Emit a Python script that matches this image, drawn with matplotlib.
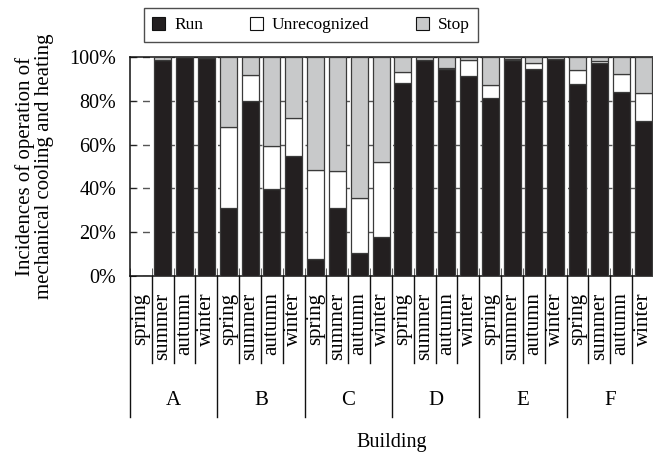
import matplotlib
matplotlib.use("Agg")
import matplotlib.pyplot as plt
from matplotlib.patches import Patch
import numpy as np

plt.rcParams['font.family'] = ['Liberation Serif', 'DejaVu Serif']

buildings = ['A', 'B', 'C', 'D', 'E', 'F']
seasons = ['spring', 'summer', 'autumn', 'winter']

# percent of incidences, building-major order (A spring, A summer, ...)
run = [0, 98.5, 100, 99.5,
       31, 80, 39.5, 54.7,
       7.7, 31, 10.6, 17.6,
       88, 98.6, 94.5, 91.5,
       81.5, 98.5, 94.4, 99,
       87.6, 97.4, 83.8, 71]
unrecognized = [0, 0, 0, 0,
                37, 12, 20, 17.4,
                40.6, 16.8, 25.2, 34.4,
                5, 0, 0.5, 7,
                5.6, 0.5, 2.7, 0.3,
                6.5, 0.8, 8.3, 12.5]
stop = [0, 1.5, 0, 0.5,
        32, 8, 40.5, 27.9,
        51.7, 52.2, 64.2, 48,
        7, 1.4, 5, 1.5,
        12.9, 1, 2.9, 0.7,
        5.9, 1.8, 7.9, 16.5]

run_c = '#231f20'
unrec_c = '#ffffff'
stop_c = '#c8c9ca'
edge_c = '#3a3a3a'

fig = plt.figure(figsize=(6.53, 4.55), dpi=100)
ax = fig.add_axes([130/653, 1-276/455, 524/653, 219/455])

x = np.arange(len(run))
run = np.array(run)
unrecognized = np.array(unrecognized)
stop = np.array(stop)
w = 0.78
ax.bar(x, run, w, color=run_c, edgecolor=edge_c, lw=0.9, zorder=3)
ax.bar(x, unrecognized, w, bottom=run, color=unrec_c, edgecolor=edge_c, lw=0.9, zorder=3)
ax.bar(x, stop, w, bottom=run+unrecognized, color=stop_c, edgecolor=edge_c, lw=0.9, zorder=3)

ax.set_xlim(-0.5, len(run)-0.5)
ax.set_ylim(0, 100)
ax.set_yticks([0, 20, 40, 60, 80, 100])
ax.set_yticklabels([f'{v}%' for v in [0, 20, 40, 60, 80, 100]], fontsize=14.5)
ax.yaxis.grid(True, ls=(0, (5, 4)), color='#555555', lw=1, zorder=0)
ax.tick_params(axis='y', direction='in', length=4, pad=10, color='#222222')
ax.set_xticks([])
ax.set_xticks(np.arange(len(run)+1)-0.5, minor=True)
ax.tick_params(axis='x', which='minor', direction='in', length=6, color='#444444')
ax.spines['right'].set_visible(False)
for s in ['left', 'bottom', 'top']:
    ax.spines[s].set_linewidth(1.1)
    ax.spines[s].set_color('#111111')

trans = ax.get_xaxis_transform()
for i in range(len(run)+1):
    ybot = -0.645 if i % 4 == 0 else -0.398
    ax.plot([i-0.5, i-0.5], [0, ybot], transform=trans, color='#111111', lw=1, clip_on=False)
for i in range(len(run)):
    ax.text(i, -0.075, seasons[i % 4], transform=trans, rotation=90,
            ha='center', va='top', fontsize=15)
for j, b in enumerate(buildings):
    ax.text(j*4+1.5, -0.567, b, transform=trans, ha='center', va='center', fontsize=15)
ax.text(0.5, -0.76, 'Building', transform=ax.transAxes, ha='center', va='center', fontsize=14.5)

ax.set_ylabel('Incidences of operation of\nmechanical cooling and heating', fontsize=15, linespacing=1.0)
ax.yaxis.set_label_coords(-0.145, 0.5)

handles = [Patch(facecolor=run_c, edgecolor='#111111', lw=0.8, label='Run'),
           Patch(facecolor=unrec_c, edgecolor='#111111', lw=0.8, label='Unrecognized'),
           Patch(facecolor=stop_c, edgecolor='#111111', lw=0.8, label='Stop')]
leg = fig.legend(handles=handles, loc='center', bbox_to_anchor=(311/653, 1-25/455), ncol=3,
                 fontsize=12.5, frameon=True, fancybox=False, handlelength=0.75, handleheight=0.75,
                 handletextpad=0.5, columnspacing=2.7, borderpad=0.5)
leg.get_frame().set_edgecolor('#222222')
leg.get_frame().set_linewidth(1.0)

fig.savefig('out.png', dpi=100)
